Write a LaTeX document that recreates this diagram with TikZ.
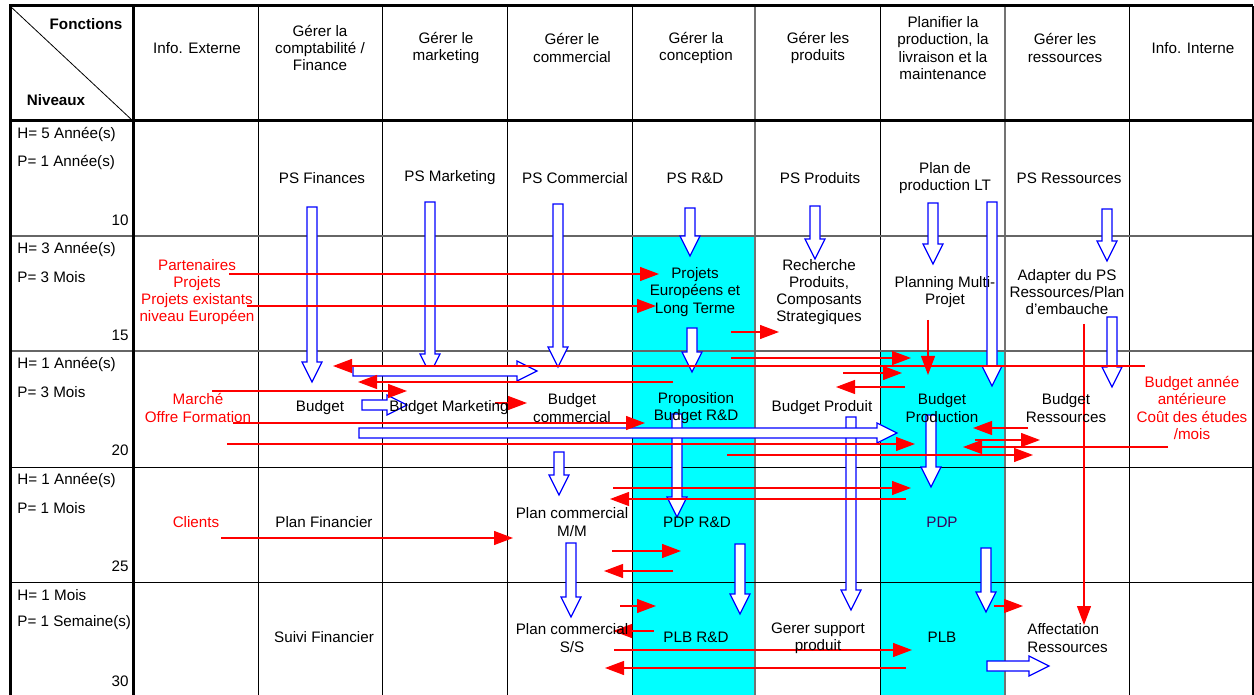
\documentclass[tikz,border=0pt]{standalone}
\usepackage{fontspec}
\setmainfont{Liberation Sans}
\usepackage{xcolor}
\usepackage{tikz}
\usetikzlibrary{arrows.meta}

\definecolor{pdpviolet}{RGB}{60,0,90}
\definecolor{aqua}{RGB}{0,255,255}

% hollow blue block arrows: x / top / tip  and  start / y / tip
\newcommand{\bluedown}[3]{%
  \draw[blockarrow] ({#1-5},#2) -- ({#1+5},#2) -- ({#1+5},{#3-20}) -- ({#1+10},{#3-20})
    -- (#1,#3) -- ({#1-10},{#3-20}) -- ({#1-5},{#3-20}) -- cycle;}
\newcommand{\blueright}[3]{%
  \draw[blockarrow] (#1,{#2-5}) -- ({#3-20},{#2-5}) -- ({#3-20},{#2-10})
    -- (#3,#2) -- ({#3-20},{#2+10}) -- ({#3-20},{#2+5}) -- (#1,{#2+5}) -- cycle;}

\begin{document}
\begin{tikzpicture}[x=0.5pt,y=-0.5pt,
    lbl/.style={font=\fontsize{7.6}{8.6}\selectfont, align=center, inner sep=0pt},
    boldlbl/.style={lbl, font=\fontsize{7.6}{8.6}\selectfont\bfseries},
    redlbl/.style={lbl, text=red},
    blockarrow/.style={draw=blue, fill=white, line width=0.6pt},
    redarrow/.style={red, line width=0.6pt, -{Triangle[length=9.5pt,width=7pt]}}]
    \useasboundingbox (0,0) rectangle (1254,695);
    % Background
    \fill[aqua] (632,236) rectangle (755,695);
    \fill[aqua] (880,351) rectangle (1005,695);
    % Grid
    \foreach \x in {258,382,507,632,880,1129}
      \draw[line width=0.5pt] (\x,6) -- (\x,695);
    \foreach \x in {755,1005}
      \draw[black!55,line width=0.6pt] (\x,6) -- (\x,695);
    \foreach \y in {236,351}
      \draw[black!60,line width=0.6pt] (10,\y) -- (1253,\y);
    \foreach \y in {467,582}
      \draw[line width=0.5pt] (10,\y) -- (1253,\y);
    \draw[line width=1.5pt] (10,695) -- (10,6) -- (1253,6);
    \draw[line width=1.5pt] (133,6) -- (133,695);
    \draw[line width=1.5pt] (10,121) -- (1253,121);
    \draw[line width=1pt] (1253,6) -- (1253,695);
    \draw[line width=0.4pt] (10,6) -- (133,121);
    % Blue arrows
    \bluedown{312}{207}{382}
    \bluedown{430}{202}{374}
    \bluedown{558}{204}{367}
    \bluedown{690}{208}{256}
    \bluedown{815}{206}{259}
    \bluedown{933}{203}{264}
    \bluedown{992}{202}{386}
    \bluedown{1107}{209}{261}
    \bluedown{1112}{317}{387}
    \bluedown{692}{328}{372}
    \bluedown{559}{452}{495}
    \bluedown{677}{414}{517}
    \bluedown{851}{417}{610}
    \bluedown{931}{415}{487}
    \bluedown{740}{544}{614}
    \bluedown{986}{548}{612}
    \bluedown{571}{543}{617}
    \blueright{353}{371}{537}
    \blueright{362}{405}{407}
    \blueright{359}{433}{897}
    \blueright{987}{666}{1049}
    % Red arrows
    \draw[redarrow] (229,274) -- (659,274);
    \draw[redarrow] (247,306) -- (656,306);
    \draw[redarrow] (731,332) -- (779,332);
    \draw[redarrow] (928,320) -- (928,375);
    \draw[redarrow] (731,358) -- (911,358);
    \draw[redarrow] (1145,366) -- (333,366);
    \draw[redarrow] (673,382) -- (358,382);
    \draw[redarrow] (212,391) -- (407,391);
    \draw[redarrow] (495,403) -- (527,403);
    \draw[redarrow] (233,423) -- (645,423);
    \draw[redarrow] (227,444) -- (915,444);
    \draw[redarrow] (727,455) -- (1033,455);
    \draw[redarrow] (1028,428) -- (973,428);
    \draw[redarrow] (975,440) -- (1040,440);
    \draw[redarrow] (1168,447) -- (963,447);
    \draw[redarrow] (843,373) -- (902,373);
    \draw[redarrow] (905,387) -- (836,387);
    \draw[redarrow] (1084,324) -- (1084,625);
    \draw[redarrow] (613,488) -- (911,488);
    \draw[redarrow] (906,499) -- (610,499);
    \draw[redarrow] (221,538) -- (513,538);
    \draw[redarrow] (612,551) -- (681,551);
    \draw[redarrow] (673,571) -- (604,571);
    \draw[redarrow] (620,606) -- (656,606);
    \draw[redarrow] (654,631) -- (613,631);
    \draw[redarrow] (614,650) -- (912,650);
    \draw[redarrow] (906,668) -- (605,668);
    \draw[redarrow] (994,606) -- (1023,606);
    % Header
    \node[boldlbl] (fonctions) at (86,24) {Fonctions};
    \node[boldlbl] (niveaux) at (56,100) {Niveaux};
    \node[lbl] (infoext) at (197,48) {Info. Externe};
    \node[lbl] (compta) at (320,48) {Gérer la\\comptabilité /\\Finance};
    \node[lbl] (marketing) at (446,48) {Gérer le\\marketing};
    \node[lbl] (commercial) at (572,48) {Gérer le\\commercial};
    \node[lbl] (conception) at (696,48) {Gérer la\\conception};
    \node[lbl] (produits) at (818,48) {Gérer les\\produits};
    \node[lbl] (planifier) at (943,48) {Planifier la\\production, la\\livraison et la\\maintenance};
    \node[lbl] (ressources) at (1065,48) {Gérer les\\ressources};
    \node[lbl] (infoint) at (1193,48) {Info. Interne};
    % Levels
    \foreach \rowy/\hh/\pp/\nn in {121/5 Année(s)/1 Année(s)/10, 236/3 Année(s)/3 Mois/15,
        351/1 Année(s)/3 Mois/20, 467/1 Année(s)/1 Mois/25, 582/1 Mois/1 Semaine(s)/30} {
      \node[lbl,anchor=west] (h\nn) at (17,\rowy+13) {H= \hh};
      \node[lbl,anchor=west] (p\nn) at (17,\rowy+41) {P= \pp};
      \node[lbl,anchor=east] (n\nn) at (129,\rowy+99) {\nn};
    }
    % Row 10
    \node[lbl] (psfin) at (322,178) {PS Finances};
    \node[lbl] (psmkt) at (450,178) {PS Marketing};
    \node[lbl] (pscom) at (575,178) {PS Commercial};
    \node[lbl] (psrd) at (695,178) {PS R\&D};
    \node[lbl] (psprod) at (820,178) {PS Produits};
    \node[lbl] (planlt) at (945,178) {Plan de\\production LT};
    \node[lbl] (psress) at (1069,178) {PS Ressources};
    % Row 15
    \node[redlbl] (partenaires) at (197,292) {Partenaires\\Projets\\Projets existants\\niveau Européen};
    \node[lbl] (projeu) at (695,292) {Projets\\Européens et\\Long Terme};
    \node[lbl] (recherche) at (819,292) {Recherche\\Produits,\\Composants\\Strategiques};
    \node[lbl] (planning) at (945,292) {Planning Multi-\\Projet};
    \node[lbl] (adapter) at (1067,292) {Adapter du PS\\Ressources/Plan\\d'embauche};
    % Row 20
    \node[redlbl] (marche) at (198,408) {Marché\\Offre Formation};
    \node[lbl] (budget) at (320,408) {Budget};
    \node[lbl] (budmkt) at (449,408) {Budget Marketing};
    \node[lbl] (budcom) at (572,408) {Budget\\commercial};
    \node[lbl] (proprd) at (696,408) {Proposition\\Budget R\&D};
    \node[lbl] (budprod) at (822,408) {Budget Produit};
    \node[lbl] (budprodn) at (942,408) {Budget\\Production};
    \node[lbl] (budress) at (1066,408) {Budget\\Ressources};
    \node[redlbl] (anterieure) at (1192,408) {Budget année\\antérieure\\Coût des études\\/mois};
    % Row 25
    \node[redlbl] (clients) at (196,522) {Clients};
    \node[lbl] (planfin) at (324,522) {Plan Financier};
    \node[lbl] (plancommm) at (572,522) {Plan commercial\\M/M};
    \node[lbl] (pdprd) at (697,522) {PDP R\&D};
    \node[lbl,text=pdpviolet] (pdp) at (942,522) {PDP};
    % Row 30
    \node[lbl] (suivifin) at (324,637) {Suivi Financier};
    \node[lbl] (plancomss) at (572,638) {Plan commercial\\S/S};
    \node[lbl] (plbrd) at (696,637) {PLB R\&D};
    \node[lbl] (support) at (818,638) {Gerer support\\produit};
    \node[lbl] (plb) at (942,637) {PLB};
    \node[lbl,align=left,anchor=west] (affectation) at (1027,638) {Affectation\\Ressources};
\end{tikzpicture}
\end{document}
